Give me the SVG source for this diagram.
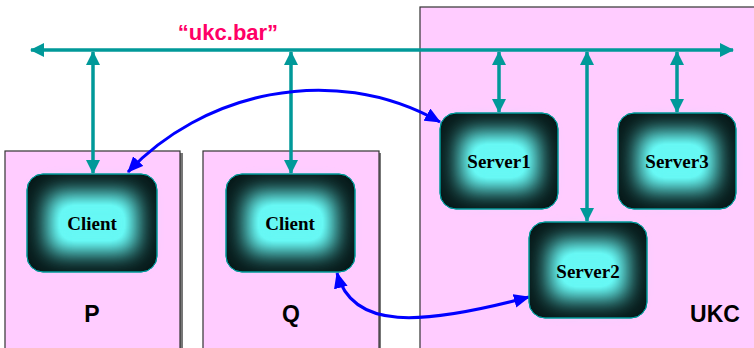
<svg xmlns="http://www.w3.org/2000/svg" width="754" height="348" viewBox="0 0 754 348">
  <defs>
    <style>
      .region { fill: #FFCCFF; stroke: #333333; stroke-width: 1.2; }
      .shadow { fill: #777777; }
      .bus { stroke: #009999; stroke-width: 3.5; fill: none; }
      .link { stroke: #0000FF; stroke-width: 3; fill: none; }
      .body { fill: #061818; stroke: #009999; stroke-width: 1; }
      .glow { fill: #66F8F4; filter: url(#soft); }
      .edge { fill: none; stroke: #009999; stroke-width: 1; }
      .name { font-family: "Liberation Serif", "Times New Roman", serif; font-weight: bold; font-size: 19px; fill: #000; text-anchor: middle; }
      .area { font-family: "Liberation Sans", Arial, sans-serif; font-weight: bold; font-size: 23px; fill: #000; text-anchor: middle; }
      .title { font-family: "Liberation Sans", Arial, sans-serif; font-weight: bold; font-size: 22px; fill: #FF0066; text-anchor: middle; }
    </style>
    <!-- soft rectangular glow: blur, then alpha boosted so the centre stays bright -->
    <filter id="soft" x="-80%" y="-80%" width="260%" height="260%">
      <feGaussianBlur stdDeviation="11.5"/>
      <feComponentTransfer>
        <feFuncA type="linear" slope="1.2"/>
      </feComponentTransfer>
    </filter>
    <marker id="tealHead" viewBox="0 0 14 14" refX="13" refY="7" markerWidth="14" markerHeight="14" markerUnits="userSpaceOnUse" orient="auto-start-reverse">
      <path d="M0,0 L14,7 L0,14 z" fill="#009999"/>
    </marker>
    <marker id="blueHead" viewBox="0 0 16 14" refX="15" refY="7" markerWidth="16" markerHeight="14" markerUnits="userSpaceOnUse" orient="auto-start-reverse">
      <path d="M0,0 L16,7 L0,14 z" fill="#0000FF"/>
    </marker>
  </defs>

  <!-- host areas -->
  <g id="area-P">
    <rect class="shadow" x="7" y="153" width="176" height="200"/>
    <rect class="region" x="5" y="151" width="175" height="200"/>
    <text class="area" x="92" y="322">P</text>
  </g>
  <g id="area-Q">
    <rect class="shadow" x="205" y="153" width="176" height="200"/>
    <rect class="region" x="203" y="151" width="176" height="200"/>
    <text class="area" x="291" y="322">Q</text>
  </g>
  <g id="area-UKC">
    <rect class="region" x="420" y="7" width="340" height="345"/>
    <text class="area" x="715" y="322">UKC</text>
  </g>

  <!-- broadcast bus and connectors -->
  <g id="connectors">
    <text class="title" x="228" y="40">“ukc.bar”</text>
    <line class="bus" x1="31" y1="50" x2="733" y2="50" marker-start="url(#tealHead)" marker-end="url(#tealHead)"/>
    <line class="bus" x1="93" y1="52" x2="93" y2="173" marker-start="url(#tealHead)" marker-end="url(#tealHead)"/>
    <line class="bus" x1="291" y1="52" x2="291" y2="173" marker-start="url(#tealHead)" marker-end="url(#tealHead)"/>
    <line class="bus" x1="499" y1="52" x2="499" y2="112" marker-start="url(#tealHead)" marker-end="url(#tealHead)"/>
    <line class="bus" x1="677" y1="52" x2="677" y2="112" marker-start="url(#tealHead)" marker-end="url(#tealHead)"/>
    <line class="bus" x1="587" y1="52" x2="587" y2="221" marker-start="url(#tealHead)" marker-end="url(#tealHead)"/>
    <path class="link" d="M128,172 C200,95 330,60 440,122" marker-start="url(#blueHead)" marker-end="url(#blueHead)"/>
    <path class="link" d="M337,273 C352,330 420,326 529,297" marker-start="url(#blueHead)" marker-end="url(#blueHead)"/>
  </g>

  <!-- processes -->
  <g id="client-P">
    <rect class="body" x="27" y="174" width="130" height="98" rx="16"/>
    <rect class="glow" x="48" y="194" width="88" height="58" rx="6"/>
    <rect class="edge" x="27" y="174" width="130" height="98" rx="16"/>
    <text class="name" x="92" y="230">Client</text>
  </g>
  <g id="client-Q">
    <rect class="body" x="226" y="174" width="129" height="98" rx="16"/>
    <rect class="glow" x="247" y="194" width="87" height="58" rx="6"/>
    <rect class="edge" x="226" y="174" width="129" height="98" rx="16"/>
    <text class="name" x="290" y="230">Client</text>
  </g>
  <g id="server1">
    <rect class="body" x="440" y="113" width="118" height="96" rx="16"/>
    <rect class="glow" x="461" y="133" width="76" height="56" rx="6"/>
    <rect class="edge" x="440" y="113" width="118" height="96" rx="16"/>
    <text class="name" x="499" y="168">Server1</text>
  </g>
  <g id="server3">
    <rect class="body" x="618" y="113" width="118" height="96" rx="16"/>
    <rect class="glow" x="639" y="133" width="76" height="56" rx="6"/>
    <rect class="edge" x="618" y="113" width="118" height="96" rx="16"/>
    <text class="name" x="677" y="168">Server3</text>
  </g>
  <g id="server2">
    <rect class="body" x="529" y="222" width="118" height="96" rx="16"/>
    <rect class="glow" x="550" y="242" width="76" height="56" rx="6"/>
    <rect class="edge" x="529" y="222" width="118" height="96" rx="16"/>
    <text class="name" x="588" y="278">Server2</text>
  </g>
</svg>
